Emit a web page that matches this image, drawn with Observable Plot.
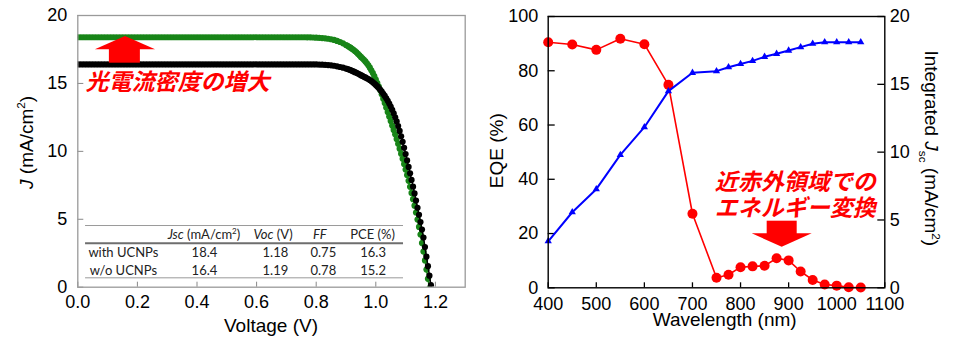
<!DOCTYPE html>
<html><head><meta charset="utf-8">
<script src="https://cdn.jsdelivr.net/npm/d3@7"></script>
<script src="https://cdn.jsdelivr.net/npm/@observablehq/plot@0.6"></script>
<style>
html,body{margin:0;padding:0;background:#fff;}
#wrap{position:relative;width:957px;height:354px;overflow:hidden;background:#fff;}
#left{position:absolute;left:0;top:0;}
#right{position:absolute;left:480px;top:0;}
</style></head><body><div id="wrap"><div id="left"></div><div id="right"></div></div>
<script>
// ---------- Left panel data: J-V curves ----------
const voltage = [
0.00,0.01,0.02,0.03,0.04,0.05,0.06,0.07,0.08,0.09,
0.10,0.11,0.12,0.13,0.14,0.15,0.16,0.17,0.18,0.19,
0.20,0.21,0.22,0.23,0.24,0.25,0.26,0.27,0.28,0.29,
0.30,0.31,0.32,0.33,0.34,0.35,0.36,0.37,0.38,0.39,
0.40,0.41,0.42,0.43,0.44,0.45,0.46,0.47,0.48,0.49,
0.50,0.51,0.52,0.53,0.54,0.55,0.56,0.57,0.58,0.59,
0.60,0.61,0.62,0.63,0.64,0.65,0.66,0.67,0.68,0.69,
0.70,0.71,0.72,0.73,0.74,0.75,0.76,0.77,0.78,0.79,
0.80,0.81,0.82,0.83,0.84,0.85,0.86,0.87,0.88,0.89,
0.90,
0.905,0.91,0.915,0.92,0.925,0.93,0.935,0.94,0.945,0.95,
0.955,0.96,0.965,0.97,0.975,0.98,0.985,0.99,0.995,1.00,
1.005,1.01,1.015,1.02,1.025,1.03,1.035,1.04,1.045,1.05,
1.055,1.06,1.065,1.07,1.075,1.08,1.085,1.09,1.095,1.10,
1.105,1.11,1.115,1.12,1.125,1.13,1.135,1.14,1.145,1.15,
1.155,1.16,1.165,1.17,1.175,1.18,1.185,1.19];

const jWithUCNPs = [
18.40,18.40,18.40,18.40,18.40,18.40,18.40,18.40,18.40,18.40,
18.40,18.40,18.40,18.40,18.40,18.40,18.40,18.40,18.40,18.40,
18.40,18.40,18.40,18.40,18.40,18.40,18.40,18.40,18.40,18.40,
18.40,18.40,18.40,18.40,18.40,18.40,18.40,18.40,18.40,18.40,
18.40,18.40,18.40,18.40,18.40,18.40,18.40,18.40,18.40,18.40,
18.40,18.40,18.40,18.40,18.40,18.40,18.40,18.40,18.40,18.40,
18.40,18.40,18.40,18.40,18.40,18.40,18.40,18.40,18.40,18.40,
18.40,18.40,18.40,18.40,18.40,18.40,18.40,18.39,18.39,18.38,
18.37,18.36,18.34,18.32,18.29,18.25,18.20,18.13,18.05,17.95,
17.83,
17.77,17.70,17.63,17.55,17.47,17.38,17.29,17.18,17.07,16.95,
16.85,16.74,16.62,16.48,16.33,16.16,15.97,15.76,15.53,15.28,
15.03,14.77,14.50,14.20,13.88,13.55,13.22,12.89,12.56,12.23,
11.90,11.58,11.25,10.91,10.56,10.20,9.83,9.45,9.06,8.66,
8.25,7.83,7.39,6.94,6.48,6.00,5.50,4.98,4.44,3.88,
3.25,2.62,1.97,1.30,0.62,-0.08,-0.80,-1.50];

const jWithoutUCNPs = [
16.40,16.40,16.40,16.40,16.40,16.40,16.40,16.40,16.40,16.40,
16.40,16.40,16.40,16.40,16.40,16.40,16.40,16.40,16.40,16.40,
16.40,16.40,16.40,16.40,16.40,16.40,16.40,16.40,16.40,16.40,
16.40,16.40,16.40,16.40,16.40,16.40,16.40,16.40,16.40,16.40,
16.40,16.40,16.40,16.40,16.40,16.40,16.40,16.40,16.40,16.40,
16.40,16.40,16.40,16.40,16.40,16.40,16.40,16.40,16.40,16.40,
16.40,16.40,16.40,16.40,16.40,16.40,16.40,16.40,16.40,16.40,
16.40,16.40,16.40,16.40,16.40,16.40,16.40,16.40,16.40,16.40,
16.40,16.39,16.38,16.37,16.35,16.33,16.30,16.26,16.21,16.16,
16.10,
16.06,16.02,15.98,15.93,15.88,15.83,15.78,15.73,15.67,15.61,
15.55,15.49,15.44,15.38,15.32,15.25,15.17,15.08,14.99,14.89,
14.78,14.66,14.53,14.39,14.24,14.08,13.91,13.72,13.52,13.30,
13.06,12.80,12.51,12.20,11.86,11.50,11.11,10.70,10.26,9.80,
9.33,8.85,8.38,7.90,7.40,6.90,6.38,5.85,5.33,4.80,
4.24,3.65,2.95,2.25,1.55,0.85,0.15,-0.55];

const jvXTicks = [0.0, 0.2, 0.4, 0.6, 0.8, 1.0, 1.2];
const jvYTicks = [0, 5, 10, 15, 20];

// table
const tableSamples = ["with UCNPs", "w/o UCNPs"];
const tableJsc = ["18.4", "16.4"];
const tableVoc = ["1.18", "1.19"];
const tableFF = ["0.75", "0.78"];
const tablePCE = ["16.3", "15.2"];
const leftNote = "光電流密度の増大";

// ---------- Right panel data: EQE + integrated Jsc ----------
const wavelength = [400,450,500,550,600,650,700,750,775,800,825,850,875,900,925,950,975,1000,1025,1050];
const eqe = [90.5,89.7,87.7,91.8,89.8,74.8,27.3,3.7,4.8,7.6,7.9,8.1,10.9,10.1,6.0,2.9,1.2,0.8,0.2,0.1];
const integratedJsc = [3.43,5.57,7.27,9.8,11.84,14.5,15.85,15.97,16.26,16.5,16.73,17.03,17.25,17.49,17.74,17.99,18.1,18.1,18.1,18.1];
const wlTicks = [400,500,600,700,800,900,1000,1100];
const eqeTicks = [0,20,40,60,80,100];
const jscTicks = [0,5,10,15,20];
const rightNote1 = "近赤外領域での";
const rightNote2 = "エネルギー変換";

const FONT = "'Liberation Sans', Arial, sans-serif";
const TFONT = "Lato, 'Open Sans', sans-serif";
const JPFONT = "'Noto Sans CJK JP', 'Noto Sans CJK SC', sans-serif";
const RED = "#ff0000";

function richText(svg, x, y, angle, parts, opts = {}) {
  const size = opts.size || 19;
  const t = d3.select(svg).append("text")
    .attr("transform", `translate(${x},${y}) rotate(${angle})`)
    .attr("text-anchor", opts.anchor || "middle")
    .attr("font-family", opts.family || FONT)
    .attr("font-size", size)
    .attr("fill", opts.fill || "#000");
  let shift = 0;
  for (const p of parts) {
    const s = t.append("tspan").text(p.t);
    let target = 0;
    if (p.sup) target = -size * 0.42;
    if (p.sub) target = size * 0.3;
    if (p.sup || p.sub) s.attr("font-size", size * 0.62);
    if (target !== shift) { s.attr("dy", target - shift); shift = target; }
    if (p.italic) s.attr("font-style", "italic");
  }
  return t;
}

// ---------- Left plot ----------
const jvData = voltage.map((v, i) => ({v, jw: jWithUCNPs[i], jo: jWithoutUCNPs[i]}));
const LW = 480, LH = 354, LML = 77.3, LMR = 15.3, LMT = 15, LMB = 67.3;
const lpw = LW - LML - LMR, lph = LH - LMT - LMB;
const GREEN = "#188518";

const leftPlot = Plot.plot({
  width: LW, height: LH,
  marginLeft: LML, marginRight: LMR, marginTop: LMT, marginBottom: LMB,
  x: {domain: [0, 1.3]},
  y: {domain: [0, 20]},
  style: {fontFamily: FONT, fontSize: "18px", color: "#000", background: "#fff", overflow: "visible"},
  marks: [
    Plot.ruleX(jvXTicks, {x: d => d, insetTop: lph - 5, stroke: "#888", strokeWidth: 1}),
    Plot.ruleY(jvYTicks, {y: d => d, insetRight: lpw - 6, stroke: "#888", strokeWidth: 1}),
    Plot.axisX(jvXTicks, {tickSize: 0, tickPadding: 8, tickFormat: d => d.toFixed(1), label: null}),
    Plot.axisY(jvYTicks, {tickSize: 0, tickPadding: 10.5, tickFormat: d => String(d), label: null}),
    // table rules
    Plot.ruleY([4.54], {x1: 0.026, x2: 1.093, stroke: "#9a9a9a", strokeWidth: 1}),
    Plot.ruleY([3.24], {x1: 0.026, x2: 1.093, stroke: "#6e6e6e", strokeWidth: 2}),
    Plot.ruleY([0.69], {x1: 0.026, x2: 1.093, stroke: "#9a9a9a", strokeWidth: 1}),
    Plot.text(tableSamples, {x: 0.153, y: (d, i) => [2.5, 1.2][i], text: d => d, fontFamily: TFONT, fontSize: 13, fill: "#222"}),
    Plot.text(tableJsc, {x: 0.425, y: (d, i) => [2.5, 1.2][i], text: d => d, fontFamily: TFONT, fontSize: 13, fill: "#222"}),
    Plot.text(tableVoc, {x: 0.663, y: (d, i) => [2.5, 1.2][i], text: d => d, fontFamily: TFONT, fontSize: 13, fill: "#222"}),
    Plot.text(tableFF, {x: 0.824, y: (d, i) => [2.5, 1.2][i], text: d => d, fontFamily: TFONT, fontSize: 13, fill: "#222"}),
    Plot.text(tablePCE, {x: 0.991, y: (d, i) => [2.5, 1.2][i], text: d => d, fontFamily: TFONT, fontSize: 13, fill: "#222"}),
    // curves
    Plot.line(jvData, {x: "v", y: "jw", stroke: GREEN, strokeWidth: 1.5, clip: true}),
    Plot.dot(jvData, {x: "v", y: "jw", r: 3.1, fill: GREEN, stroke: "none", clip: true}),
    Plot.line(jvData, {x: "v", y: "jo", stroke: "#000", strokeWidth: 1.5, clip: true}),
    Plot.dot(jvData, {x: "v", y: "jo", r: 3.1, fill: "#000", stroke: "none", clip: true}),
    // annotation arrow (up)
    Plot.rect([0], {x1: 0.106, x2: 0.210, y1: 16.49, y2: 17.6, fill: RED}),
    Plot.areaY([{x: 0.059, t: 17.48}, {x: 0.160, t: 18.46}, {x: 0.261, t: 17.48}], {x: "x", y1: 17.48, y2: "t", fill: RED}),
    Plot.text([leftNote], {x: 0.026, y: 15.07, text: d => d, textAnchor: "start", fill: RED, fontSize: 23, fontWeight: "bold", fontStyle: "italic", fontFamily: JPFONT}),
    Plot.frame({stroke: "#9a9a9a", strokeWidth: 1.3})
  ]
});
document.getElementById("left").appendChild(leftPlot);
{
  const sx = leftPlot.scale("x"), sy = leftPlot.scale("y");
  const ty = sy.apply(3.81) + 13 * 0.35;
  const tf = {size: 13, family: TFONT, fill: "#222"};
  richText(leftPlot, sx.apply(0.425), ty, 0, [{t: "Jsc", italic: true}, {t: " (mA/cm"}, {t: "2", sup: true}, {t: ")"}], tf);
  richText(leftPlot, sx.apply(0.657), ty, 0, [{t: "Voc", italic: true}, {t: " (V)"}], tf);
  richText(leftPlot, sx.apply(0.814), ty, 0, [{t: "FF", italic: true}], tf);
  richText(leftPlot, sx.apply(0.991), ty, 0, [{t: "PCE (%)"}], tf);
  richText(leftPlot, 271, 331.5, 0, [{t: "Voltage (V)"}]);
  richText(leftPlot, 33, 142.4, -90, [{t: "J", italic: true}, {t: " (mA/cm"}, {t: "2", sup: true}, {t: ")"}]);
}

// ---------- Right plot ----------
const eqeData = wavelength.map((w, i) => ({w, eqe: eqe[i], jsc: integratedJsc[i]}));
const RW = 477, RH = 354, RML = 67.7, RMR = 72.7, RMT = 16, RMB = 66.7;
const rpw = RW - RML - RMR, rph = RH - RMT - RMB;
const J2E = 100 / 20; // right axis (0-20) mapped onto the left axis (0-100)

const rightPlot = Plot.plot({
  width: RW, height: RH,
  marginLeft: RML, marginRight: RMR, marginTop: RMT, marginBottom: RMB,
  x: {domain: [400, 1100]},
  y: {domain: [0, 100]},
  style: {fontFamily: FONT, fontSize: "18px", color: "#000", background: "#fff", overflow: "visible"},
  marks: [
    Plot.ruleX(wlTicks, {x: d => d, insetTop: rph - 5, stroke: "#000", strokeWidth: 1.3}),
    Plot.ruleY(eqeTicks, {y: d => d, insetRight: rpw - 7, stroke: "#000", strokeWidth: 1.3}),
    Plot.ruleY(jscTicks, {y: d => d * J2E, insetLeft: rpw - 7, stroke: "#000", strokeWidth: 1.3}),
    Plot.axisX(wlTicks, {tickSize: 0, tickPadding: 9, tickFormat: d => String(d), label: null}),
    Plot.axisY(eqeTicks, {anchor: "left", tickSize: 0, tickPadding: 10, tickFormat: d => String(d), label: null}),
    Plot.axisY(jscTicks.map(d => d * J2E), {anchor: "right", tickSize: 0, tickPadding: 5, tickFormat: d => String(d / J2E), label: null}),
    Plot.line(eqeData, {x: "w", y: "eqe", stroke: RED, strokeWidth: 1.6}),
    Plot.dot(eqeData, {x: "w", y: "eqe", r: 5, fill: RED, stroke: "none"}),
    Plot.line(eqeData, {x: "w", y: d => d.jsc * J2E, stroke: "#0000ff", strokeWidth: 2}),
    Plot.dot(eqeData, {x: "w", y: d => d.jsc * J2E, r: 2.7, symbol: "triangle", fill: "#0000ff", stroke: "none"}),
    // annotation arrow (down)
    Plot.rect([0], {x1: 855.4, x2: 917.8, y1: 19.6, y2: 24.55, fill: RED}),
    Plot.areaY([{x: 824.2, t: 19.9}, {x: 886.6, t: 14.96}, {x: 949.0, t: 19.9}], {x: "x", y1: 19.9, y2: "t", fill: RED}),
    Plot.text([rightNote1], {x: 914, y: 38.8, text: d => d, fill: RED, fontSize: 23, fontWeight: "bold", fontStyle: "italic", fontFamily: JPFONT}),
    Plot.text([rightNote2], {x: 914, y: 29.0, text: d => d, fill: RED, fontSize: 23, fontWeight: "bold", fontStyle: "italic", fontFamily: JPFONT}),
    Plot.frame({stroke: "#000", strokeWidth: 1.4})
  ]
});
document.getElementById("right").appendChild(rightPlot);
richText(rightPlot, 244.7, 326, 0, [{t: "Wavelength (nm)"}]);
richText(rightPlot, 22.5, 150.7, -90, [{t: "EQE (%)"}]);
richText(rightPlot, 444.5, 148.3, 90, [{t: "Integrated "}, {t: "J", italic: true}, {t: "sc", sub: true}, {t: " (mA/cm"}, {t: "2", sup: true}, {t: ")"}]);
</script></body></html>
